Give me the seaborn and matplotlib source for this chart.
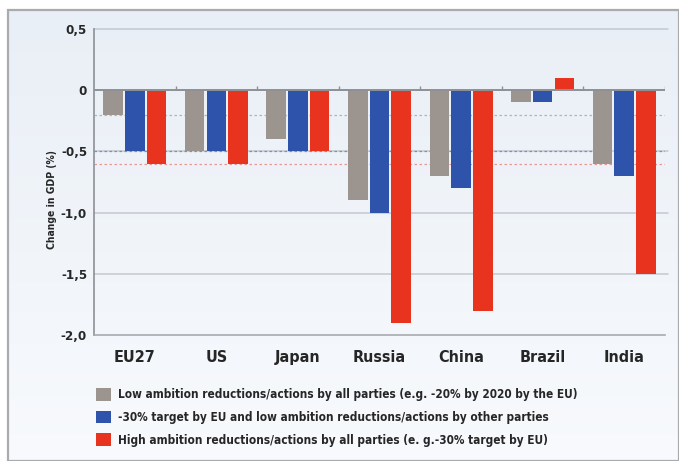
import os
import numpy as np
import pandas as pd
import matplotlib
matplotlib.use("Agg")
import matplotlib.pyplot as plt
from matplotlib import font_manager as fm
from matplotlib.patches import Rectangle, Patch
import seaborn as sns

# GDP impact of emission reduction scenarios by region (% change)
regions = ["EU27", "US", "Japan", "Russia", "China", "Brazil", "India"]
low_ambition = [-0.2, -0.5, -0.4, -0.9, -0.7, -0.1, -0.6]
eu30_low_others = [-0.5, -0.5, -0.5, -1.0, -0.8, -0.1, -0.7]
high_ambition = [-0.6, -0.6, -0.5, -1.9, -1.8, 0.1, -1.5]

scenarios = [
    "Low ambition reductions/actions by all parties (e.g. -20% by 2020 by the EU)",
    "-30% target by EU and low ambition reductions/actions by other parties",
    "High ambition reductions/actions by all parties (e. g.-30% target by EU)",
]
colors = ["#9b948f", "#2d54aa", "#e8341f"]

yticks = [0.5, 0.0, -0.5, -1.0, -1.5, -2.0]
ytick_labels = ["0,5", "0", "-0,5", "-1,0", "-1,5", "-2,0"]

df = pd.DataFrame({
    "region": regions * 3,
    "value": low_ambition + eu30_low_others + high_ambition,
    "scenario": [scenarios[0]] * 7 + [scenarios[1]] * 7 + [scenarios[2]] * 7,
})


def condensed_bold_font():
    """Return a path to a bold narrow/condensed face if one is installed."""
    files = [f.fname for f in fm.fontManager.ttflist]
    prefs = ["liberationsansnarrow-bold.", "dejavusanscondensed-bold.",
             "robotocondensed-bold.", "opensanscondensed-bold.",
             "notosans-condensedbold.", "opensans-condensedbold."]
    for p in prefs:
        for fn in files:
            if os.path.basename(fn).lower().startswith(p):
                return fn
    for fn in files:
        b = os.path.basename(fn).lower()
        if ("narrow" in b or "condensed" in b) and "bold" in b and "italic" not in b \
                and "oblique" not in b and "semi" not in b and "extra" not in b:
            return fn
    return None


sns.set_theme(style="white")
plt.rcParams["font.family"] = ["DejaVu Sans"]

cfont = condensed_bold_font()
narrow = cfont is not None


def fp(size):
    if narrow:
        return fm.FontProperties(fname=cfont, size=size)
    return fm.FontProperties(family="DejaVu Sans", weight="bold", size=size * 0.85)


W, H = 679, 461
fig = plt.figure(figsize=(W / 100, H / 100), dpi=100, facecolor="white")

# panel background with a soft vertical gradient and a thin border
bg = fig.add_axes([8 / W, 0, 1 - 8 / W, 1 - 10 / H], zorder=0)
grad = np.linspace(0, 1, 256).reshape(-1, 1)
top_c = np.array([0.914, 0.937, 0.965])
bot_c = np.array([0.972, 0.980, 0.992])
img = top_c * (1 - grad)[..., None] + bot_c * grad[..., None]
bg.imshow(img, aspect="auto", extent=[0, 1, 0, 1], origin="upper")
bg.set_axis_off()
fig.patches.append(Rectangle((8 / W, 0), 1 - 8 / W, 1 - 10 / H,
                             transform=fig.transFigure, fill=False,
                             edgecolor="#a9abae", linewidth=1.6, zorder=5))

ax = fig.add_axes([94 / W, 1 - 335 / H, (665 - 94) / W, (335 - 29) / H], zorder=1)
ax.patch.set_alpha(0)

sns.barplot(data=df, x="region", y="value", hue="scenario", palette=colors,
            width=0.8, gap=0.1, ax=ax, legend=False, zorder=3,
            edgecolor="none", linewidth=0, saturation=1)

ax.set_ylim(-2.0, 0.5)
ax.set_xlim(-0.5, len(regions) - 0.5)
ax.set_yticks(yticks)
ax.set_yticklabels(ytick_labels)
ax.tick_params(axis="y", length=0, pad=5, labelcolor="#262626")
ax.tick_params(axis="x", length=0, pad=11, labelcolor="#262626")
for lbl in ax.get_yticklabels():
    lbl.set_fontproperties(fp(9.5))
for lbl in ax.get_xticklabels():
    lbl.set_fontproperties(fp(11.5))

# grid lines
for y in [0.5, -0.5, -1.0, -1.5]:
    ax.axhline(y, xmax=1.005, color="#c4c9cf", linewidth=1.1, zorder=1, clip_on=False)
ax.axhline(0, color="#8d9196", linewidth=1.4, zorder=4)

# EU27 reference levels drawn across the chart
ax.axhline(low_ambition[0], color="#b4b4b4", linewidth=0.9, linestyle=(0, (2, 2)), zorder=1)
ax.axhline(eu30_low_others[0], color="#7e8fb8", linewidth=0.9, linestyle=(0, (2, 2)), zorder=1)
ax.axhline(high_ambition[0], color="#e49a92", linewidth=0.9, linestyle=(0, (2, 2)), zorder=1)

# small separators between groups on the zero line
for b in np.arange(0.5, len(regions), 1.0):
    ax.plot([b, b], [0, 0.035], color="#8d9196", linewidth=1.0, zorder=4,
            solid_capstyle="butt")

for side in ["top", "right"]:
    ax.spines[side].set_visible(False)
ax.spines["left"].set_color("#8d9196")
ax.spines["left"].set_linewidth(1.2)
ax.spines["bottom"].set_color("#a7abb0")
ax.spines["bottom"].set_linewidth(1.2)

ax.set_xlabel("")
ax.set_ylabel("")
fig.text(52 / W, 1 - 200 / H, "Change in GDP (%)", rotation=90, ha="center",
         va="center", fontproperties=fp(7.5), color="#262626")

handles = [Patch(facecolor=c, edgecolor="none") for c in colors]
leg = fig.legend(handles, scenarios, loc="upper left",
                 bbox_to_anchor=(96 / W, 1 - 388 / H), frameon=False,
                 prop=fp(8.5), labelcolor="#262626",
                 handlelength=1.3, handleheight=1.3, handletextpad=0.6,
                 labelspacing=0.78, borderaxespad=0, borderpad=0)

fig.savefig("out.png", dpi=100, facecolor="white")
